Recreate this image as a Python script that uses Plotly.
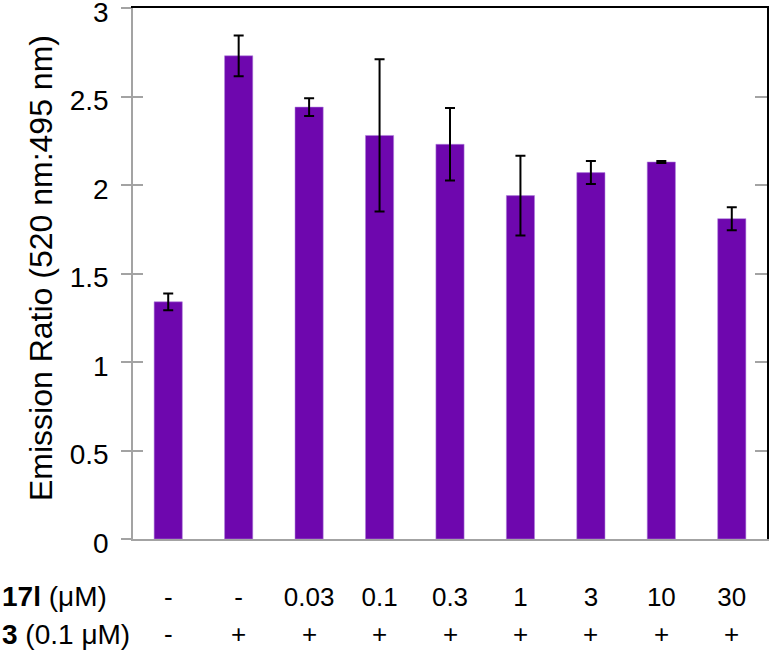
import plotly.graph_objects as go

# ---- data ----
labels_17l = ["-", "-", "0.03", "0.1", "0.3", "1", "3", "10", "30"]
labels_3 = ["-", "+", "+", "+", "+", "+", "+", "+", "+"]
emission_ratio = [1.34, 2.73, 2.44, 2.28, 2.23, 1.94, 2.07, 2.13, 1.81]
error_sd = [0.047, 0.115, 0.05, 0.43, 0.205, 0.225, 0.065, 0.005, 0.065]
y_title = "Emission Ratio (520 nm:495 nm)"
row_label_17l = "<b>17l</b> (μM)"
row_label_3 = "<b>3</b> (0.1 μM)"

idx = list(range(len(emission_ratio)))

FONT = "Liberation Sans, Arial, sans-serif"
GRAY = "#A3A3A3"
PURPLE = "#6E07AE"

W, H = 769, 651
ML, MR, MT, MB = 133, 2, 8, 112
plot_w = W - ML - MR
plot_h = H - MT - MB

fig = go.Figure()
fig.add_trace(go.Bar(
    x=idx, y=emission_ratio, width=0.4,
    marker=dict(color=PURPLE, line=dict(color="rgba(175,130,220,0.55)", width=1)),
    error_y=dict(type="data", array=error_sd, visible=True,
                 color="black", thickness=2, width=5),
    showlegend=False,
))
# helper invisible traces so overlay axes are drawn
fig.add_trace(go.Scatter(x=[0], y=[0], mode="markers", marker=dict(opacity=0),
                         xaxis="x2", yaxis="y2", hoverinfo="skip", showlegend=False))
fig.add_trace(go.Scatter(x=[0], y=[0], mode="markers", marker=dict(opacity=0),
                         xaxis="x", yaxis="y3", hoverinfo="skip", showlegend=False))

axis_common = dict(showgrid=False, zeroline=False)

fig.update_layout(
    width=W, height=H,
    margin=dict(l=ML, r=MR, t=MT, b=MB, autoexpand=False),
    paper_bgcolor="white", plot_bgcolor="white",
    font=dict(family=FONT, color="black"),
    bargap=0.6,
    xaxis=dict(range=[-0.5, 8.5], tickvals=idx, ticktext=labels_17l,
               showline=True, linecolor=GRAY, linewidth=1.5, ticks="",
               tickfont=dict(size=26, family=FONT, color="black"),
               ticklabelstandoff=34, **axis_common),
    xaxis2=dict(overlaying="x", side="top", range=[-0.5, 8.5],
                showline=True, linecolor="black", linewidth=1.5,
                showticklabels=False, ticks="", **axis_common),
    yaxis=dict(range=[0, 3], tick0=0, dtick=0.5, showline=True,
               linecolor=GRAY, linewidth=1.5, ticks="outside", ticklen=10,
               tickcolor=GRAY, tickwidth=1.5,
               tickfont=dict(size=28, family=FONT, color="black"),
               ticklabelstandoff=7, ticklabelshift=4,
               ticklabeloverflow="allow", **axis_common),
    yaxis2=dict(overlaying="y", side="left", range=[0, 3], tick0=0, dtick=0.5,
                ticks="inside", ticklen=10, tickcolor=GRAY, tickwidth=1.5,
                showline=False, showticklabels=False, **axis_common),
    yaxis3=dict(overlaying="y", side="right", range=[0, 3], tick0=0, dtick=0.5,
                ticks="inside", ticklen=12, tickcolor=GRAY, tickwidth=1.5,
                showline=True, linecolor="black", linewidth=1.5,
                showticklabels=False, **axis_common),
)

def px_to_paper_x(px):
    return (px - ML) / plot_w

def px_to_paper_y(py):
    return (H - MB - py) / plot_h

annotations = []
# y-axis title
annotations.append(dict(text=y_title, textangle=-90, xref="paper", yref="paper",
                        x=px_to_paper_x(41), y=px_to_paper_y(268),
                        xanchor="center", yanchor="middle", showarrow=False,
                        font=dict(size=32, family=FONT, color="black")))
# row labels
annotations.append(dict(text=row_label_17l, xref="paper", yref="paper",
                        x=px_to_paper_x(0), y=px_to_paper_y(596),
                        xanchor="left", yanchor="middle", showarrow=False,
                        font=dict(size=28, family=FONT, color="black")))
annotations.append(dict(text=row_label_3, xref="paper", yref="paper",
                        x=px_to_paper_x(0), y=px_to_paper_y(634),
                        xanchor="left", yanchor="middle", showarrow=False,
                        font=dict(size=28, family=FONT, color="black")))
# second row (+/-)
for i, s in zip(idx, labels_3):
    annotations.append(dict(text=s, xref="x", yref="paper", x=i,
                            y=px_to_paper_y(634), xanchor="center",
                            yanchor="middle", showarrow=False,
                            font=dict(size=26, family=FONT, color="black")))
fig.update_layout(annotations=annotations)

fig.write_html(
    "out.html",
    config={"displayModeBar": False},
    post_script="document.body.style.margin='0';document.body.style.overflow='hidden';",
)
